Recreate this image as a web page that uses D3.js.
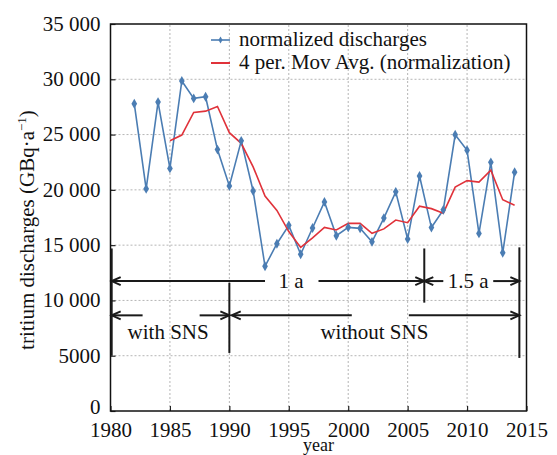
<html>
<head>
<script src="https://d3js.org/d3.v7.min.js"></script>
<style>
body { margin: 0; background: #fff; }
text { font-family: 'Liberation Serif', 'DejaVu Serif', serif; fill: #111; }
.grid line { stroke: #b5b5b5; stroke-dasharray: 2,2; stroke-width: 1; }
.ann { stroke: #1a1a1a; stroke-width: 2; fill: none; }
</style>
</head>
<body>
<svg id="chart" width="557" height="455"></svg>
<script>
// years and normalized tritium discharges (GBq/a)
var years = [1982, 1983, 1984, 1985, 1986, 1987, 1988, 1989, 1990, 1991, 1992,
             1993, 1994, 1995, 1996, 1997, 1998, 1999, 2000, 2001, 2002, 2003,
             2004, 2005, 2006, 2007, 2008, 2009, 2010, 2011, 2012, 2013, 2014];
var discharges = [27790, 20090, 27940, 21940, 29850, 28270, 28420, 23640, 20360, 24430, 19900,
                  13090, 15130, 16790, 14180, 16550, 18910, 15850, 16610, 16520, 15300, 17450,
                  19820, 15550, 21250, 16590, 18190, 24980, 23580, 16060, 22490, 14310, 21600];
// 4 per. moving average, starts in 1985
var avgYears = years.slice(3);
var movAvg = [24440, 24955, 27000, 27120, 27545, 25172, 24212, 22082, 19445, 18137, 16227,
              14797, 15662, 16607, 16372, 16980, 16972, 16070, 16470, 17272, 17030, 18517,
              18302, 17895, 20252, 20835, 20702, 21777, 19110, 18615];
var xTicks = [1980, 1985, 1990, 1995, 2000, 2005, 2010, 2015];
var yTicks = [0, 5000, 10000, 15000, 20000, 25000, 30000, 35000];

var svg = d3.select("#chart");
var x = d3.scaleLinear().domain([1980, 2015]).range([110.5, 526.5]);
var y = d3.scaleLinear().domain([0, 35000]).range([411, 24]);
var fs = "21px";

var fmtY = function (v) {
    if (v < 10000) return String(v);
    var s = String(v);
    return s.slice(0, s.length - 3) + " " + s.slice(s.length - 3);
};

// grid
var grid = svg.append("g").attr("class", "grid");
grid.selectAll("line.v").data(xTicks.slice(1, -1)).enter().append("line")
    .attr("x1", function (d) { return x(d); }).attr("x2", function (d) { return x(d); })
    .attr("y1", y(0)).attr("y2", y(35000));
grid.selectAll("line.h").data(yTicks.slice(1, -1)).enter().append("line")
    .attr("x1", x(1980)).attr("x2", x(2015))
    .attr("y1", function (d) { return y(d); }).attr("y2", function (d) { return y(d); });

// axes (ticks point inward)
var xAxis = d3.axisBottom(x).tickValues(xTicks).tickSizeInner(-5).tickSizeOuter(0)
    .tickPadding(9).tickFormat(d3.format("d"));
var gx = svg.append("g").attr("transform", "translate(0," + y(0) + ")").call(xAxis);
var yAxis = d3.axisLeft(y).tickValues(yTicks).tickSizeInner(-5).tickSizeOuter(0)
    .tickPadding(10).tickFormat(fmtY);
var gy = svg.append("g").attr("transform", "translate(" + x(1980) + ",0)").call(yAxis);
[gx, gy].forEach(function (g) {
    g.select(".domain").remove();
    g.selectAll(".tick line").attr("stroke", "#222").attr("stroke-width", 1.2);
    g.selectAll(".tick text").style("font-size", fs).attr("fill", "#111")
        .style("font-family", "'Liberation Serif', 'DejaVu Serif', serif");
});
gx.selectAll(".tick text").attr("dy", "0.8em");
gy.selectAll(".tick text").attr("dy", "0.3em");
// the 0 label sits a little higher so it clears 1980
gy.selectAll(".tick text").filter(function (d) { return d === 0; }).attr("dy", "0.1em");

// frame
svg.append("rect").attr("x", x(1980)).attr("y", y(35000))
    .attr("width", x(2015) - x(1980)).attr("height", y(0) - y(35000))
    .attr("fill", "none").attr("stroke", "#111").attr("stroke-width", 1.5);

// axis titles
svg.append("text").attr("x", (x(1980) + x(2015)) / 2).attr("y", 451)
    .attr("text-anchor", "middle").style("font-size", "18px").text("year");
var yt = svg.append("text").attr("transform", "translate(34,230) rotate(-90)")
    .attr("text-anchor", "middle").style("font-size", fs);
yt.append("tspan").text("tritium discharges (GBq\u00b7a");
yt.append("tspan").attr("dy", "-8").style("font-size", "13px").text("\u22121");
yt.append("tspan").attr("dy", "8").text(")");

// annotation arrows
function arrowHead(px, py, dir) {
    svg.append("path").attr("class", "ann").attr("stroke-width", 1.6)
        .attr("d", "M" + (px - dir * 9) + "," + (py - 4) + "L" + px + "," + py +
                   "L" + (px - dir * 9) + "," + (py + 4));
}
function hseg(x1, x2, v) {
    svg.append("line").attr("class", "ann")
        .attr("x1", x(x1)).attr("x2", x(x2)).attr("y1", y(v)).attr("y2", y(v));
}
function vseg(xv, v1, v2) {
    svg.append("line").attr("class", "ann")
        .attr("x1", x(xv)).attr("x2", x(xv)).attr("y1", y(v1)).attr("y2", y(v2));
}
var rowA = 11750, rowB = 8650;
var splitA = 2006.4, endYear = 2014.4;
vseg(1980.1, 14700, 5000);
vseg(splitA, 14700, 9800);
vseg(endYear, 14800, 4800);
vseg(1990, 11600, 5250);
hseg(1980.1, 1993.0, rowA); hseg(1997.5, splitA, rowA);
hseg(splitA, 2008.0, rowA); hseg(2012.2, endYear, rowA);
arrowHead(x(1980.1), y(rowA), -1); arrowHead(x(splitA), y(rowA), 1);
arrowHead(x(splitA), y(rowA), -1); arrowHead(x(endYear), y(rowA), 1);
hseg(1980.1, 1982.7, rowB); hseg(1987.5, 1990, rowB);
hseg(1990.2, 2000.3, rowB); hseg(2005.1, endYear, rowB);
arrowHead(x(1980.1), y(rowB), -1); arrowHead(x(1990), y(rowB), 1);
arrowHead(x(1990.2), y(rowB), -1); arrowHead(x(endYear), y(rowB), 1);

var labels = [
    { t: "1 a", yr: 1995.2, v: rowA },
    { t: "1.5 a", yr: 2010.1, v: rowA },
    { t: "with SNS", yr: 1984.85, v: 6550 },
    { t: "without SNS", yr: 2002.2, v: 6550 }
];
svg.selectAll("text.lab").data(labels).enter().append("text").attr("class", "lab")
    .attr("x", function (d) { return x(d.yr); })
    .attr("y", function (d) { return d.v === rowA ? y(d.v) + 7 : y(d.v); })
    .attr("text-anchor", "middle").style("font-size", fs)
    .text(function (d) { return d.t; });

// series
var blue = "#4b7db3", red = "#e0323a";
var avgData = avgYears.map(function (yr, i) { return [yr, movAvg[i]]; });
var rawData = years.map(function (yr, i) { return [yr, discharges[i]]; });
var line = d3.line().x(function (d) { return x(d[0]); }).y(function (d) { return y(d[1]); });

svg.append("path").datum(rawData).attr("d", line)
    .attr("fill", "none").attr("stroke", blue).attr("stroke-width", 1.6);
svg.append("path").datum(avgData).attr("d", line)
    .attr("fill", "none").attr("stroke", red).attr("stroke-width", 1.6);
var diamond = d3.symbol().type(d3.symbolDiamond).size(28);
svg.selectAll("path.pt").data(rawData).enter().append("path").attr("class", "pt")
    .attr("d", diamond)
    .attr("transform", function (d) { return "translate(" + x(d[0]) + "," + y(d[1]) + ")"; })
    .attr("fill", blue);

// legend
var lg = svg.append("g").attr("transform", "translate(211,0)");
lg.append("line").attr("x1", 0).attr("x2", 19).attr("y1", 40).attr("y2", 40)
    .attr("stroke", blue).attr("stroke-width", 1.6);
lg.append("path").attr("d", d3.symbol().type(d3.symbolDiamond).size(14))
    .attr("transform", "translate(9.5,40)").attr("fill", blue);
lg.append("line").attr("x1", 0).attr("x2", 19).attr("y1", 63).attr("y2", 63)
    .attr("stroke", red).attr("stroke-width", 2);
lg.append("text").attr("x", 28).attr("y", 46).style("font-size", fs).text("normalized discharges");
lg.append("text").attr("x", 28).attr("y", 69).style("font-size", fs).text("4 per. Mov Avg. (normalization)");
</script>
</body>
</html>
